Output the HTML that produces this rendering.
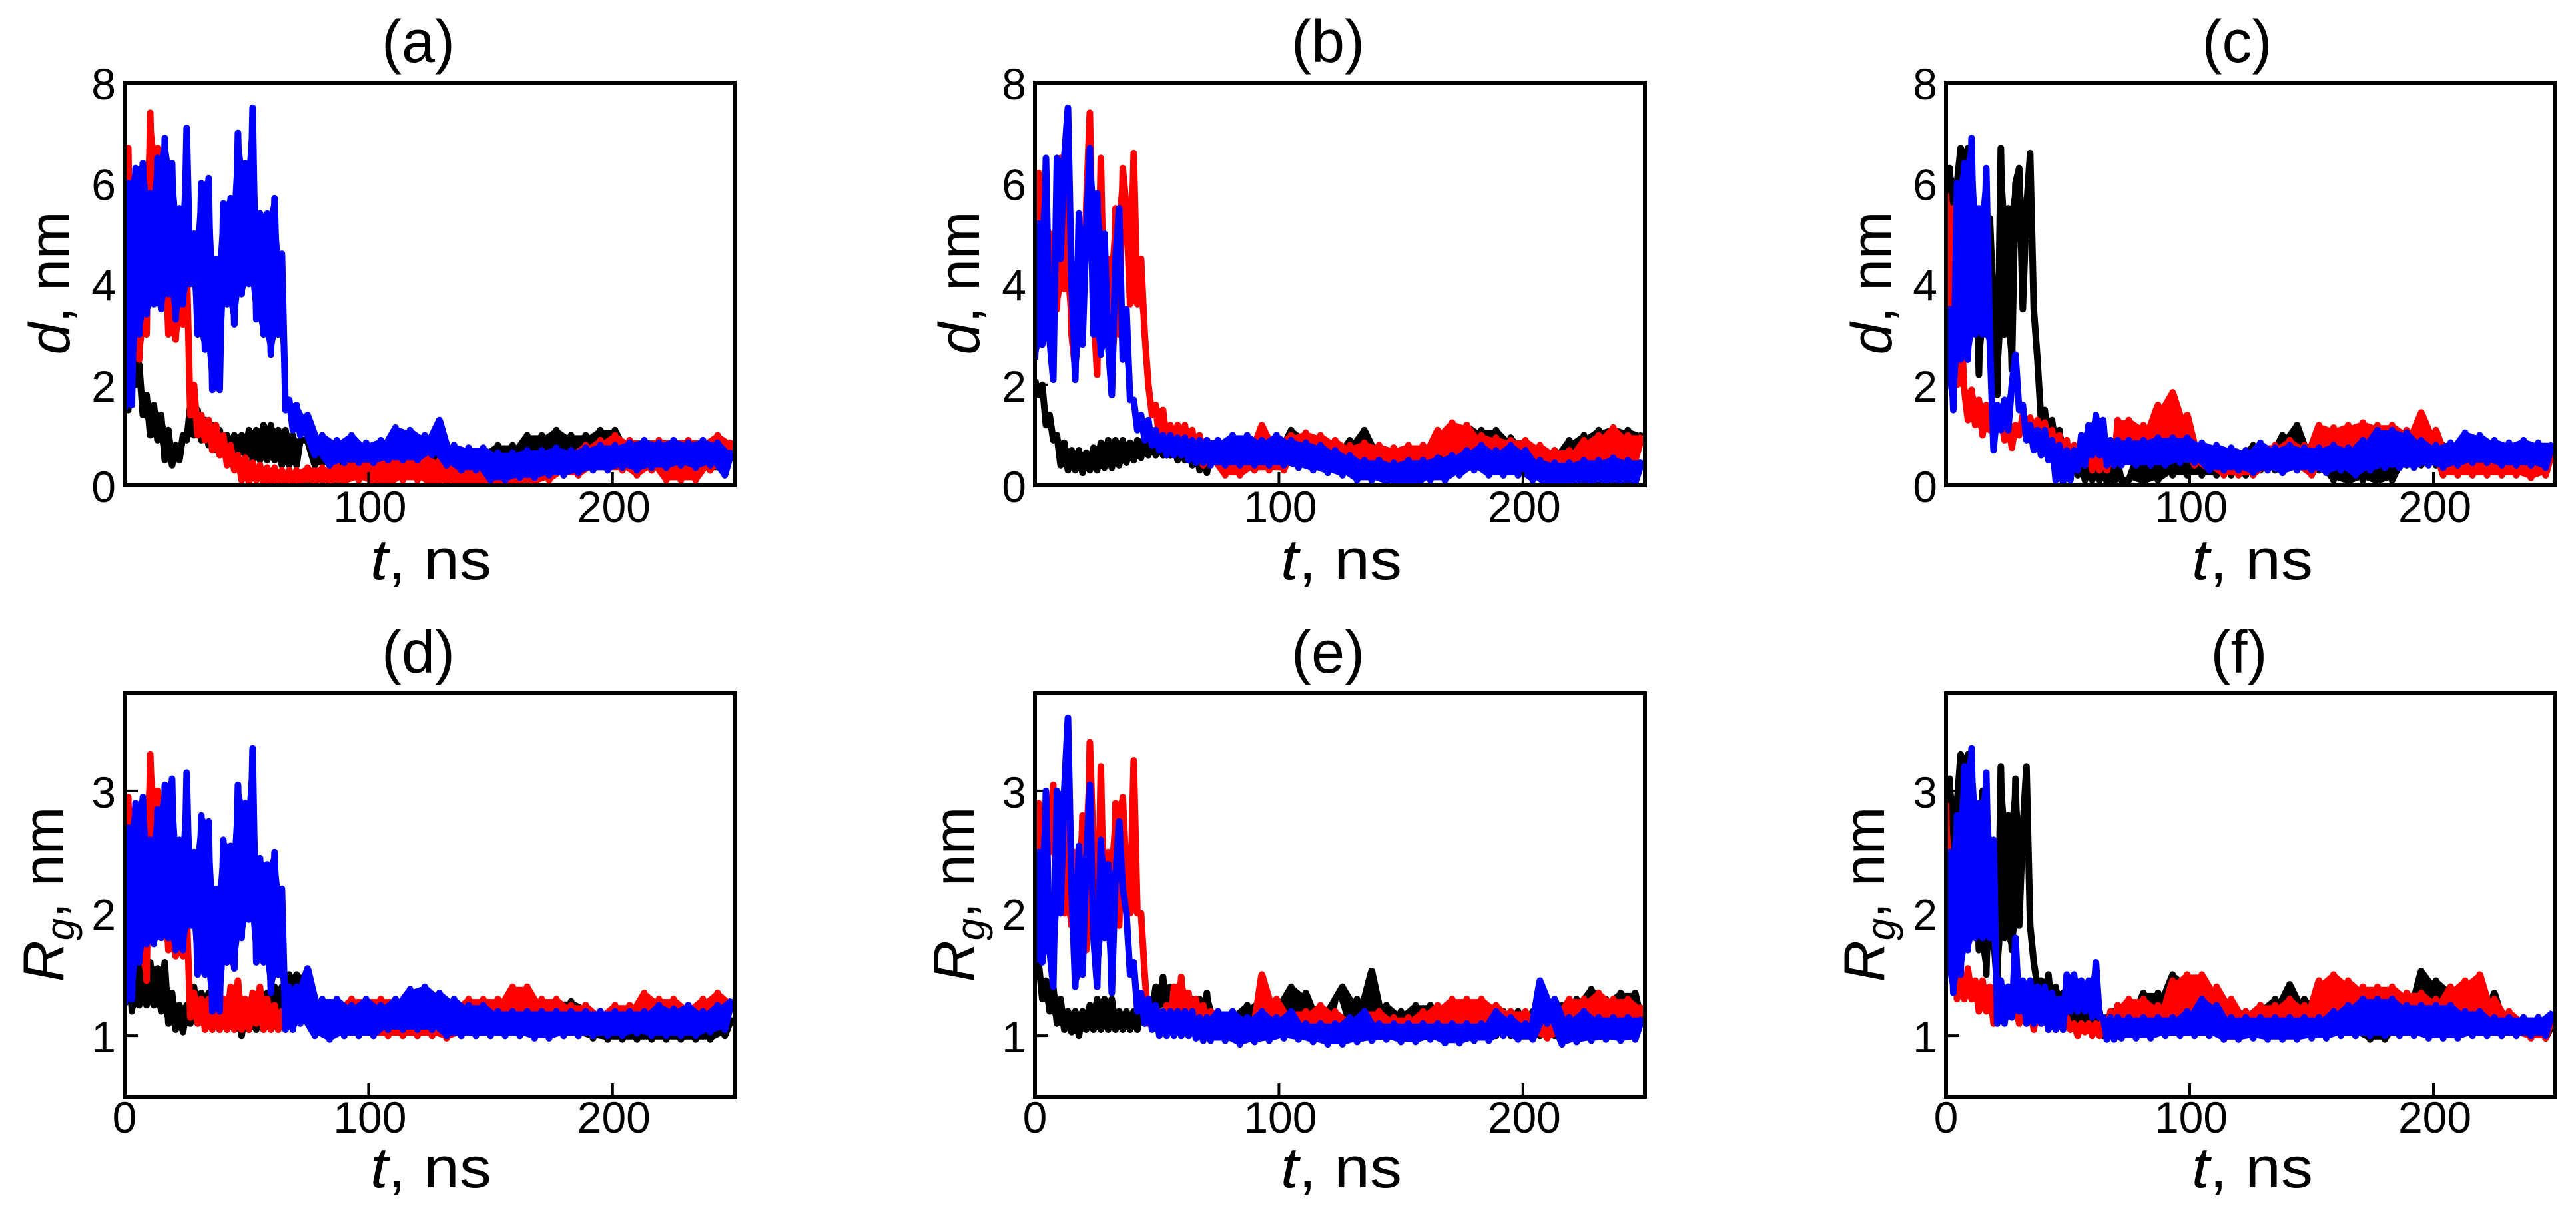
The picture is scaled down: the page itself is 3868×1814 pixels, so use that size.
<!DOCTYPE html>
<html>
<head>
<meta charset="utf-8">
<title>Time series of d and Rg</title>
<style>
html,body{margin:0;padding:0;background:#fff;}
svg{display:block;}
text{font-family:"Liberation Sans",Arial,sans-serif;fill:#000;}
</style>
</head>
<body>
<svg id="figure" xmlns="http://www.w3.org/2000/svg" width="3868" height="1814" viewBox="0 0 3868 1814"></svg>
<script>
const times=[0,1.5,3,4.5,6,7.5,9,10.5,12,13.5,
15,16.5,18,19.5,21,22.5,24,25.5,27,28.5,
30,31.5,33,34.5,36,37.5,39,40.5,42,43.5,
45,46.5,48,49.5,51,52.5,54,55.5,57,58.5,
60,61.5,63,64.5,66,67.5,69,70.5,72,
75,78,81,84,87,90,93,96,99,102,
105,108,111,114,117,120,123,126,129,132,
135,138,141,144,147,150,153,156,159,162,
165,168,171,174,177,180,183,186,189,192,
195,198,201,204,207,210,213,216,219,222,
225,228,231,234,237,240,243,246,249];
const topTicksY=[0,2,4,6,8];
const bottomTicksY=[1,2,3];
const ticksX=[100,200];

const aBlack=[3.0,1.5,3.3,2.0,2.4,1.4,1.8,1.0,1.6,0.9,
1.4,0.5,1.1,0.4,0.8,0.5,1.0,0.9,1.6,1.0,
1.5,0.9,1.3,0.8,1.2,0.7,1.1,0.7,1.0,0.7,
1.0,0.6,1.0,0.6,1.1,0.5,1.1,0.5,1.2,0.5,
1.2,0.5,1.1,0.4,1.1,0.4,1.0,0.4,0.9,
0.9,0.4,0.7,0.4,0.7,0.3,0.7,0.3,0.7,0.3,
0.7,0.3,0.9,0.3,0.8,0.4,0.7,0.3,0.8,0.4,
0.8,0.3,0.7,0.3,0.7,0.3,0.8,0.4,0.8,0.5,
1.0,0.5,1.0,0.6,1.1,0.5,1.0,0.6,1.0,0.5,
1.1,0.5,1.1,0.3,0.8,0.3,0.8,0.3,0.7,0.3,
0.7,0.3,0.8,0.3,0.7,0.3,0.7,0.3,0.7];
const aRed=[2.0,6.7,2.5,5.5,2.5,6.0,3.0,7.4,4.5,6.7,
4.0,5.0,3.0,4.2,2.9,4.5,3.2,4.4,1.4,2.0,
1.0,1.4,0.9,1.3,0.7,1.2,0.6,1.0,0.4,0.8,
0.3,0.6,0.1,0.55,0.05,0.45,0.1,0.4,0.05,0.35,
0.05,0.35,0.05,0.3,0.05,0.3,0.05,0.3,0.05,
0.35,0.05,0.35,0.05,0.4,0.05,0.5,0.1,0.6,0.05,
0.5,0.0,0.6,0.1,0.7,0.1,0.6,0.0,0.5,0.05,
0.4,0.0,0.4,0.0,0.4,0.0,0.5,0.0,0.5,0.05,
0.5,0.05,0.6,0.1,0.7,0.2,0.7,0.2,0.8,0.3,
0.9,0.3,1.0,0.3,0.9,0.2,0.9,0.3,0.9,0.1,
0.9,0.1,0.9,0.1,0.9,0.3,1.0,0.4,0.9];
const aBlue=[1.5,6.0,1.6,6.3,3.0,6.4,3.4,5.8,3.6,6.5,
3.5,6.9,3.8,6.4,3.3,5.5,3.6,7.1,4.0,5.0,
3.0,6.0,2.7,6.1,1.9,4.5,1.9,5.6,3.6,5.7,
3.2,7.0,3.8,6.4,4.0,7.5,3.3,5.4,3.0,5.4,
2.6,5.7,3.0,4.6,1.5,1.7,1.1,1.6,1.0,
1.4,0.6,1.0,0.4,0.9,0.45,1.0,0.45,0.85,0.45,
0.9,0.5,1.15,0.5,1.1,0.5,1.0,0.6,1.3,0.4,
0.8,0.3,0.75,0.3,0.75,0.1,0.65,0.1,0.65,0.15,
0.7,0.15,0.7,0.2,0.75,0.2,0.7,0.25,0.75,0.3,
0.8,0.3,0.8,0.35,0.85,0.3,0.9,0.35,0.85,0.35,
0.9,0.4,0.85,0.35,0.9,0.4,0.85,0.2,0.7];

const bBlack=[2.1,1.8,2.0,1.2,1.4,0.9,1.0,0.4,0.85,0.3,
0.7,0.3,0.7,0.25,0.65,0.3,0.75,0.3,0.85,0.35,
0.9,0.35,0.9,0.4,0.9,0.45,0.85,0.5,0.9,0.55,
1.0,0.6,1.1,0.6,1.0,0.6,0.9,0.6,0.9,0.5,
0.9,0.5,0.8,0.4,0.8,0.3,0.7,0.25,0.7,
0.6,0.25,0.6,0.25,0.6,0.3,0.8,0.4,0.8,0.5,
1.1,0.6,1.0,0.6,0.9,0.55,0.7,0.5,0.9,0.55,
1.1,0.5,0.8,0.45,0.75,0.4,0.75,0.4,0.8,0.45,
0.95,0.5,1.1,0.55,1.2,0.6,1.1,0.55,1.1,0.5,
0.95,0.4,0.8,0.3,0.6,0.25,0.7,0.4,0.9,0.4,
1.0,0.45,1.1,0.45,1.15,0.5,1.1,0.5,1.05];
const bRed=[2.5,6.2,3.0,5.5,3.0,5.0,3.5,6.5,3.9,6.0,
3.0,2.3,5.0,3.0,5.5,7.4,3.5,2.2,6.5,3.0,
4.5,1.8,5.5,3.0,6.3,5.5,3.6,6.6,3.6,4.5,
3.0,2.0,1.4,1.6,0.9,1.5,0.8,1.2,0.8,1.2,
0.7,1.2,0.6,1.1,0.5,1.0,0.4,0.9,0.4,
0.9,0.2,0.9,0.2,0.8,0.3,1.2,0.3,0.9,0.3,
1.0,0.7,1.05,0.6,1.0,0.55,0.9,0.45,0.8,0.45,
0.85,0.45,0.8,0.4,0.75,0.4,0.8,0.4,0.8,0.4,
1.1,0.6,1.25,0.6,1.2,0.5,1.0,0.5,0.95,0.5,
0.9,0.5,0.9,0.5,0.8,0.4,0.7,0.3,0.7,0.4,
0.9,0.4,1.0,0.5,1.15,0.5,1.0,0.5,1.0];
const bBlue=[2.5,5.2,2.8,6.5,2.9,2.1,6.5,4.5,6.5,7.5,
4.0,2.1,5.4,2.8,5.0,6.7,3.0,5.8,2.6,5.0,
2.8,1.8,4.5,5.5,2.5,3.5,1.7,1.7,1.1,1.4,
0.9,1.3,0.8,1.1,0.7,1.0,0.6,1.0,0.6,0.95,
0.6,0.95,0.5,0.9,0.45,0.9,0.45,0.9,0.4,
0.9,0.4,1.0,0.4,1.0,0.4,0.9,0.4,1.0,0.4,
0.9,0.35,0.85,0.3,0.8,0.25,0.7,0.2,0.6,0.1,
0.5,0.1,0.5,0.05,0.45,0.0,0.5,0.0,0.5,0.1,
0.55,0.1,0.6,0.2,0.7,0.3,0.8,0.2,0.7,0.2,
0.8,0.2,0.7,0.1,0.5,0.0,0.45,0.0,0.45,0.05,
0.5,0.05,0.5,0.05,0.55,0.05,0.5,0.05,0.5];

const cBlack=[5.0,6.3,3.0,6.0,6.7,3.0,6.7,4.0,5.0,2.2,
5.5,3.0,5.3,3.5,1.8,6.7,3.0,5.5,2.3,6.0,
6.3,3.5,5.5,6.6,3.5,2.5,1.3,1.5,0.9,1.3,
0.7,1.1,0.5,0.9,0.3,0.7,0.2,0.6,0.1,0.5,
0.1,0.5,0.1,0.5,0.05,0.45,0.05,0.45,0.1,
0.1,0.5,0.05,0.5,0.1,0.5,0.2,0.6,0.2,0.6,
0.2,0.6,0.2,0.6,0.2,0.6,0.2,0.8,0.3,0.7,
0.3,1.0,0.5,1.2,0.4,0.8,0.3,0.7,0.1,0.55,
0.05,0.5,0.1,0.55,0.05,0.5,0.1,0.5,0.4,0.7,
0.4,0.8,0.4,0.8,0.4,0.8,0.4,0.7,0.4,0.7,
0.4,0.7,0.4,0.7,0.4,0.7,0.4,0.7,0.5];
const cRed=[5.8,3.5,5.5,2.0,3.5,1.9,1.3,1.9,1.2,1.7,
1.0,1.6,1.1,1.5,1.2,1.4,0.9,1.3,0.75,1.2,
1.0,1.4,1.0,1.35,1.0,1.3,0.9,1.25,0.8,1.1,
0.6,1.0,0.4,0.9,0.3,0.8,0.3,0.9,0.4,0.8,
0.3,0.7,0.3,0.7,0.3,0.7,0.4,1.3,0.6,
1.3,0.6,1.2,0.6,1.6,0.8,1.85,0.8,1.4,0.4,
0.8,0.3,0.7,0.2,0.7,0.2,0.7,0.2,0.8,0.3,
0.8,0.3,0.9,0.3,0.8,0.2,1.2,0.5,1.15,0.5,
1.2,0.6,1.25,0.6,1.2,0.7,1.2,0.6,1.1,0.6,
1.45,0.7,1.1,0.2,0.7,0.2,0.6,0.2,0.7,0.2,
0.65,0.2,0.6,0.2,0.6,0.15,0.6,0.2,0.7];
const cBlue=[2.0,3.5,1.5,6.0,2.5,6.4,2.5,6.9,3.0,5.5,
3.0,6.3,2.8,0.7,1.6,1.1,1.7,1.1,2.0,2.6,
1.5,1.6,0.9,1.2,0.7,1.1,0.6,1.1,0.5,0.9,
0.1,0.8,0.05,0.7,0.1,0.7,0.3,1.0,0.4,1.2,
0.6,1.4,0.6,1.3,0.4,0.9,0.4,0.9,0.4,
0.9,0.4,0.9,0.4,0.95,0.4,0.95,0.45,0.95,0.45,
0.85,0.3,0.8,0.3,0.75,0.3,0.7,0.25,0.85,0.3,
0.75,0.25,0.8,0.3,0.75,0.3,0.75,0.25,0.8,0.3,
0.75,0.2,0.9,0.3,1.1,0.35,1.1,0.35,1.05,0.35,
0.9,0.4,0.8,0.35,0.85,0.4,1.05,0.45,1.0,0.45,
0.9,0.4,0.85,0.4,0.9,0.4,0.85,0.35,0.85];

const dBlack=[1.3,1.8,1.2,1.9,1.25,1.65,1.25,1.6,1.25,1.55,
1.2,1.6,1.1,1.35,1.05,1.25,1.03,1.25,1.1,1.4,
1.1,1.35,1.1,1.35,1.1,1.3,1.05,1.3,1.05,1.25,
1.05,1.3,1.0,1.25,1.05,1.25,1.05,1.3,1.05,1.35,
1.1,1.4,1.1,1.4,1.2,1.5,1.2,1.5,1.2,
1.5,1.05,1.25,1.0,1.25,1.0,1.3,1.0,1.25,1.0,
1.25,1.0,1.3,1.0,1.2,1.0,1.2,1.0,1.2,1.0,
1.2,1.0,1.2,1.0,1.2,1.0,1.2,1.0,1.2,1.0,
1.2,1.0,1.25,1.0,1.28,1.0,1.28,1.0,1.25,0.98,
1.2,0.97,1.2,0.97,1.15,0.97,1.2,0.97,1.2,0.97,
1.2,0.97,1.2,0.97,1.2,0.97,1.15,1.0,1.15];
const dRed=[1.3,2.95,1.5,2.8,1.6,2.8,1.45,3.3,2.5,3.0,
2.4,2.2,1.7,2.0,1.65,2.0,1.65,2.0,1.15,1.35,
1.1,1.3,1.05,1.3,1.05,1.35,1.05,1.3,1.05,1.4,
1.05,1.45,1.05,1.3,1.05,1.35,1.1,1.4,1.05,1.3,
1.05,1.25,1.05,1.2,1.05,1.3,1.1,1.25,1.1,
1.3,1.1,1.25,1.05,1.25,1.0,1.3,1.0,1.3,1.0,
1.3,1.0,1.3,1.0,1.3,1.0,1.3,1.0,1.25,0.98,
1.25,1.0,1.3,1.05,1.3,1.0,1.3,1.05,1.4,1.05,
1.4,1.05,1.3,1.0,1.3,1.0,1.25,1.0,1.25,1.0,
1.2,1.05,1.25,1.05,1.25,1.05,1.35,1.05,1.3,1.05,
1.3,1.1,1.25,1.1,1.3,1.1,1.35,1.1,1.3];
const dBlue=[1.25,2.7,1.3,2.9,1.6,2.95,1.75,2.6,1.75,2.85,
1.8,3.05,1.8,3.1,1.7,2.6,1.7,3.15,1.9,2.5,
1.5,2.8,1.5,2.75,1.2,2.2,1.2,2.6,1.6,2.55,
1.55,3.05,1.8,2.9,1.95,3.35,1.6,2.45,1.6,2.4,
1.35,2.5,1.5,2.2,1.05,1.4,1.05,1.4,1.1,
1.55,1.0,1.3,0.97,1.3,1.0,1.25,1.0,1.3,1.0,
1.25,1.05,1.3,1.05,1.38,1.05,1.4,1.05,1.35,1.0,
1.3,1.0,1.25,1.0,1.25,1.0,1.2,1.0,1.2,1.0,
1.2,0.98,1.2,0.98,1.2,1.0,1.2,1.0,1.2,1.0,
1.2,1.0,1.2,1.0,1.2,1.02,1.2,1.0,1.25,1.0,
1.22,1.0,1.25,1.0,1.2,1.03,1.25,1.05,1.3];

const eBlack=[1.5,1.6,1.3,1.45,1.2,1.4,1.1,1.3,1.05,1.2,
1.03,1.2,1.0,1.2,1.05,1.25,1.05,1.3,1.05,1.3,
1.05,1.3,1.05,1.2,1.05,1.2,1.05,1.2,1.05,1.2,
1.1,1.3,1.2,1.4,1.25,1.48,1.2,1.4,1.15,1.4,
1.15,1.35,1.1,1.3,1.05,1.3,1.05,1.35,1.0,
1.2,1.0,1.2,1.0,1.25,1.0,1.3,1.0,1.3,1.05,
1.4,1.1,1.35,1.05,1.2,1.0,1.3,1.4,1.1,1.3,
1.1,1.53,1.1,1.25,1.0,1.2,1.0,1.25,1.0,1.25,
1.0,1.2,1.0,1.2,1.0,1.2,1.0,1.2,1.0,1.2,
1.0,1.2,1.0,1.2,1.0,1.2,1.0,1.25,1.0,1.3,
1.05,1.38,1.1,1.3,1.1,1.35,1.1,1.35,1.1];
const eRed=[2.0,2.9,1.9,2.7,2.5,3.05,2.0,2.8,2.0,3.2,
1.9,2.5,1.8,2.8,1.7,3.4,2.5,1.4,3.2,1.8,
2.5,1.5,2.9,1.9,2.95,2.3,2.0,3.25,2.0,2.0,
1.5,1.1,1.2,1.1,1.2,1.05,1.25,1.05,1.4,1.05,
1.48,1.05,1.35,1.05,1.3,1.05,1.25,1.05,1.2,
1.15,1.0,1.15,0.98,1.1,1.0,1.5,1.0,1.3,1.0,
1.2,1.0,1.2,1.0,1.25,1.0,1.2,1.0,1.15,1.0,
1.2,1.0,1.2,1.0,1.15,1.0,1.15,1.0,1.2,1.0,
1.25,1.0,1.3,1.05,1.3,1.05,1.3,1.1,1.25,1.1,
1.2,1.05,1.2,1.0,1.1,0.98,1.2,1.0,1.3,1.05,
1.3,1.05,1.35,1.05,1.3,1.05,1.3,1.05,1.25];
const eBlue=[1.6,2.5,1.6,3.0,1.7,1.4,3.0,2.0,3.0,3.6,
2.2,1.4,2.55,1.5,2.4,3.05,1.8,1.4,2.6,1.8,
2.4,1.35,2.3,2.75,2.2,2.0,1.5,1.6,1.2,1.35,
1.1,1.3,1.05,1.25,1.0,1.2,1.0,1.2,1.0,1.2,
1.0,1.2,1.0,1.2,0.98,1.15,0.96,1.15,0.96,
1.2,0.96,1.2,0.93,1.15,0.95,1.2,0.96,1.15,0.98,
1.2,0.97,1.1,0.95,1.1,0.93,1.1,0.93,1.15,0.95,
1.2,0.96,1.1,0.97,1.1,0.95,1.1,0.95,1.1,0.97,
1.1,0.94,1.1,0.94,1.1,0.96,1.1,0.96,1.2,1.0,
1.15,0.97,1.1,0.97,1.45,1.1,1.3,0.93,1.15,0.95,
1.2,0.96,1.15,0.97,1.15,0.96,1.15,0.97,1.15];

const fBlack=[2.2,3.1,1.9,2.9,3.3,2.2,3.3,2.4,2.8,1.7,
3.0,1.5,2.6,1.8,1.4,3.2,1.8,2.8,1.7,3.1,
1.9,2.7,3.2,1.9,1.6,1.4,1.45,1.25,1.5,1.2,
1.4,1.15,1.35,1.1,1.3,1.1,1.25,1.1,1.25,1.1,
1.2,1.05,1.2,1.0,1.15,1.0,1.2,1.0,1.2,
1.2,1.0,1.35,1.05,1.35,1.05,1.5,1.05,1.45,1.05,
1.4,1.05,1.25,1.0,1.2,1.0,1.2,1.0,1.25,1.05,
1.3,1.05,1.42,1.1,1.3,1.05,1.25,1.05,1.2,1.05,
1.2,1.0,1.2,0.97,1.2,0.97,1.25,1.05,1.3,1.1,
1.53,1.1,1.45,1.1,1.4,1.05,1.3,1.05,1.2,1.05,
1.35,1.0,1.15,1.0,1.15,1.0,1.15,0.98,1.1];
const fRed=[2.9,1.6,2.5,1.3,1.5,1.3,1.55,1.3,1.45,1.2,
1.45,1.2,1.4,1.1,1.4,1.3,1.2,1.4,1.2,1.3,
1.1,1.2,1.1,1.25,1.05,1.25,1.1,1.25,1.05,1.2,
1.05,1.2,1.05,1.15,1.05,1.1,1.0,1.1,1.03,1.1,
1.0,1.1,1.0,1.15,1.0,1.2,1.05,1.25,1.1,
1.3,1.05,1.3,1.05,1.25,1.1,1.45,1.1,1.5,1.05,
1.5,1.05,1.4,0.97,1.3,0.97,1.2,1.0,1.25,1.0,
1.25,1.0,1.3,1.0,1.25,1.0,1.45,1.1,1.5,1.1,
1.45,1.1,1.4,1.05,1.4,1.05,1.4,1.05,1.35,1.05,
1.35,1.05,1.3,1.05,1.4,1.1,1.45,1.05,1.5,1.0,
1.3,1.0,1.2,1.0,1.15,0.98,1.15,0.98,1.15];
const fBlue=[1.5,2.5,1.35,2.8,1.5,3.2,1.7,3.35,1.8,2.9,
1.8,3.15,1.8,2.6,1.1,1.45,1.1,1.4,1.15,1.8,
1.2,1.45,1.1,1.45,1.1,1.4,1.1,1.4,1.05,1.35,
1.05,1.3,1.05,1.5,1.2,1.5,1.2,1.45,1.2,1.45,
1.15,1.6,1.15,1.15,0.97,1.15,0.97,1.15,0.98,
1.15,0.98,1.15,0.98,1.15,1.0,1.15,1.0,1.2,1.0,
1.3,1.0,1.25,0.97,1.15,0.97,1.15,0.98,1.15,0.97,
1.15,0.97,1.15,0.97,1.15,0.98,1.15,0.98,1.2,1.0,
1.25,1.0,1.3,1.0,1.3,1.0,1.3,1.0,1.25,1.0,
1.25,0.98,1.25,0.98,1.25,0.98,1.2,1.0,1.2,1.0,
1.15,1.0,1.15,1.0,1.15,1.0,1.15,1.0,1.2];

const svg=document.getElementById('figure');
const NS='http://www.w3.org/2000/svg';
const X_MAX=250;

const panels=[
 {id:'a',title:'(a)',kind:'d',left:187,right:1103,top:124,bottom:729,ymin:0,ymax:8,ticks:topTicksY,titleX:628,titleY:93,xlabX:647,labelX:104,series:[aBlack,aRed,aBlue]},
 {id:'b',title:'(b)',kind:'d',left:1554,right:2470,top:124,bottom:729,ymin:0,ymax:8,ticks:topTicksY,titleX:1994,titleY:93,xlabX:2014,labelX:1470,series:[bBlack,bRed,bBlue]},
 {id:'c',title:'(c)',kind:'d',left:2922,right:3837,top:124,bottom:729,ymin:0,ymax:8,ticks:topTicksY,titleX:3359,titleY:93,xlabX:3382,labelX:2840,series:[cBlack,cRed,cBlue]},
 {id:'d',title:'(d)',kind:'r',left:187,right:1103,top:1041,bottom:1647,ymin:0.5,ymax:3.8,ticks:bottomTicksY,titleX:628,titleY:1010,xlabX:647,labelX:95,series:[dBlack,dRed,dBlue]},
 {id:'e',title:'(e)',kind:'r',left:1554,right:2470,top:1041,bottom:1647,ymin:0.5,ymax:3.8,ticks:bottomTicksY,titleX:1994,titleY:1010,xlabX:2014,labelX:1462,series:[eBlack,eRed,eBlue]},
 {id:'f',title:'(f)',kind:'r',left:2922,right:3837,top:1041,bottom:1647,ymin:0.5,ymax:3.8,ticks:bottomTicksY,titleX:3362,titleY:1010,xlabX:3382,labelX:2829,series:[fBlack,fRed,fBlue]}
];
const seriesColors=['#000000','#ff0000','#0000ff'];
const seriesNames=['black','red','blue'];

function xAxis(p,t){return p.left+(t/X_MAX)*(p.right-p.left);}
function yAxis(p,v){return p.bottom-((v-p.ymin)/(p.ymax-p.ymin))*(p.bottom-p.top);}
function make(tag,attrs,parent){
  const el=document.createElementNS(NS,tag);
  for(const k in attrs){el.setAttribute(k,attrs[k]);}
  parent.appendChild(el);
  return el;
}
function addTick(g,x1,y1,x2,y2,name){
  const tick=make('line',{x1:x1,y1:y1,x2:x2,y2:y2,stroke:'#000','stroke-width':4},g);
  
  
}
function addText(g,x,y,size,anchor,str,name){
  const txt=make('text',{x:x,y:y,'font-size':size,'text-anchor':anchor},g);
  txt.textContent=str;
  
  
  return txt;
}
function bandPath(p,vals){
  const upper=[];
  const lower=[];
  for(let k=0;k<vals.length-1;k++){
    const x=xAxis(p,(times[k]+times[k+1])/2).toFixed(1);
    upper.push(x+' '+yAxis(p,Math.max(vals[k],vals[k+1])).toFixed(1));
    lower.unshift(x+' '+yAxis(p,Math.min(vals[k],vals[k+1])).toFixed(1));
  }
  return 'M'+upper.join('L')+'L'+lower.join('L')+'Z';
}

panels.forEach(function(p){
  const g=make('g',{},svg);
  
  

  const clip=make('clipPath',{id:'clip-'+p.id},g);
  make('rect',{x:p.left,y:p.top,width:p.right-p.left,height:p.bottom-p.top},clip);

  p.ticks.forEach(function(v){
    const y=yAxis(p,v);
    if(v>p.ymin&&v<p.ymax){addTick(g,p.left,y,p.left+20,y,'y-tick-'+v);}
    addText(g,p.left-13,y+25,66,'end',String(v),'y-tick-label-'+v);
  });

  const lines=make('g',{'clip-path':'url(#clip-'+p.id+')'},g);
  
  
  p.series.forEach(function(vals,i){
    const band=make('path',{d:bandPath(p,vals),fill:seriesColors[i],stroke:'none'},lines);
    
    
    let d='';
    vals.forEach(function(v,k){
      d+=(k===0?'M':'L')+xAxis(p,times[k]).toFixed(1)+' '+yAxis(p,v).toFixed(1);
    });
    const path=make('path',{d:d,fill:'none',stroke:seriesColors[i],'stroke-width':10,'stroke-linejoin':'round','stroke-linecap':'butt'},lines);
    
    
  });

  ticksX.forEach(function(t){
    const x=xAxis(p,t);
    addTick(g,x,p.bottom,x,p.bottom-20,'x-tick-'+t);
    addText(g,x+2,p.kind==='d'?784:1701,66,'middle',String(t),'x-tick-label-'+t);
  });
  if(p.kind==='r'){
    addText(g,p.left,1701,66,'middle','0','x-tick-label-0');
  }

  const frame=make('rect',{x:p.left,y:p.top,width:p.right-p.left,height:p.bottom-p.top,fill:'none',stroke:'#000','stroke-width':6},g);
  
  

  addText(g,p.titleX,p.titleY,90,'middle',p.title,'panel-title');

  const xl=make('text',{x:p.xlabX,y:p.kind==='d'?870:1783,'font-size':86,'text-anchor':'middle',textLength:182,lengthAdjust:'spacingAndGlyphs'},g);
  
  
  const xi=make('tspan',{'font-style':'italic'},xl);
  xi.textContent='t';
  const xr=make('tspan',{},xl);
  xr.textContent=', ns';

  const cy=p.kind==='d'?425:1343;
  const yl=make('text',{x:0,y:0,'font-size':86,'text-anchor':'middle',transform:'translate('+p.labelX+' '+cy+') rotate(-90)'},g);
  
  
  if(p.kind==='d'){
    const yi=make('tspan',{'font-style':'italic'},yl);
    yi.textContent='d';
    const yr=make('tspan',{},yl);
    yr.textContent=', nm';
  }else{
    const r=make('tspan',{'font-style':'italic'},yl);
    r.textContent='R';
    const s=make('tspan',{'font-style':'italic','font-size':60,dy:16},yl);
    s.textContent='g';
    const yr=make('tspan',{dy:-16},yl);
    yr.textContent=', nm';
  }
});
</script>
</body>
</html>
